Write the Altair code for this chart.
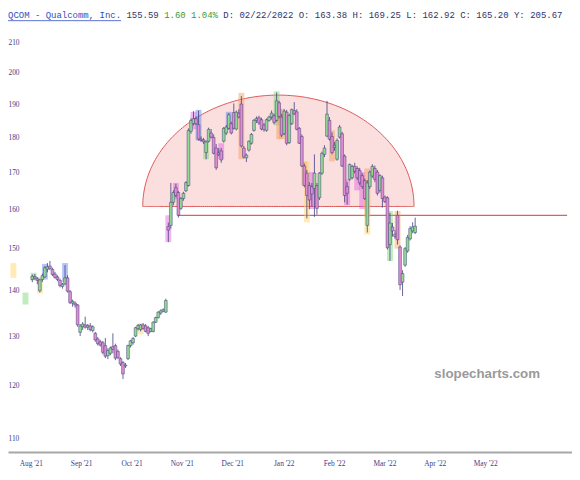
import numpy as np
import pandas as pd
import altair as alt

# ---------------- candle data ----------------
opens = [142.6,143.3,142.8,140.0,142.6,143.2,145.0,145.8,145.0,143.9,
 143.2,142.4,141.0,141.6,143.0,139.8,137.2,137.2,136.8,130.8,
 132.0,132.4,131.9,132.2,131.2,130.6,129.4,128.8,128.6,128.0,
 125.9,126.4,127.8,128.0,126.8,125.3,124.5,123.8,125.3,128.0,
 128.6,130.0,131.6,131.4,132.4,132.2,131.8,131.0,131.0,133.0,
 134.0,135.0,135.4,135.2,
 155.5,155.8,161.8,165.7,164.4,160.2,162.8,164.9,166.3,181.7,
 184.0,185.5,183.7,179.4,179.2,175.5,178.8,181.2,179.9,176.8,
 174.9,176.0,178.8,181.2,182.6,184.0,187.4,182.4,187.2,190.0,
 176.8,174.0,176.2,178.2,182.0,185.0,185.8,185.2,183.6,182.0,
 185.0,186.0,186.4,
 185.0,190.4,186.0,181.0,187.5,178.4,184.0,188.0,187.6,182.6,
 180.2,171.7,169.7,166.3,166.0,165.5,166.3,163.0,169.7,175.0,
 180.3,185.0,180.2,177.0,173.6,180.0,181.0,174.5,166.0,168.0,
 168.4,171.6,171.0,170.4,169.0,167.6,155.8,166.0,168.9,171.0,
 170.0,165.0,168.4,163.2,163.0,151.0,155.4,153.6,158.4,150.4,
 142.0,146.0,149.4,152.4,154.4,154.0]
highs = [143.8,143.9,143.2,142.8,144.0,145.8,146.5,147.0,145.4,144.4,
 143.6,142.8,141.8,146.0,143.6,140.2,138.0,137.6,137.0,132.6,
 133.0,134.2,132.6,132.8,132.3,130.9,129.8,129.2,129.0,129.6,
 127.4,127.8,130.6,128.4,127.2,125.6,124.8,124.4,128.2,129.2,
 129.8,132.0,132.6,132.6,132.8,132.6,132.2,131.8,133.2,134.2,
 135.4,135.8,136.0,138.2,
 156.5,167.0,165.0,166.8,164.8,163.2,164.6,167.5,182.6,185.6,
 187.8,186.2,188.0,180.2,179.8,179.0,182.8,182.4,180.8,178.0,
 176.8,176.8,183.0,183.6,187.2,184.6,190.2,188.0,188.4,192.5,
 177.4,175.2,179.0,181.2,185.4,186.2,186.4,185.8,184.2,185.6,
 186.4,188.0,187.0,
 193.6,191.0,187.0,188.4,188.2,187.0,188.6,190.6,188.4,183.0,
 180.8,172.4,170.6,167.2,167.0,175.0,167.0,170.0,175.8,177.6,
 191.0,186.0,181.4,178.6,179.6,183.6,181.6,175.0,167.2,172.4,
 172.0,172.6,171.6,171.2,169.6,168.2,167.8,170.4,172.2,171.8,
 170.6,169.4,169.0,163.6,163.4,159.0,156.4,154.6,159.6,150.8,
 144.8,150.4,153.4,155.6,156.6,157.8]
lows = [142.0,142.6,141.5,139.6,142.0,143.0,144.3,144.8,143.4,142.8,
 142.2,140.8,140.5,141.3,139.6,137.0,136.4,136.2,132.0,130.0,
 131.3,131.6,131.3,131.0,130.8,128.8,128.0,127.8,126.2,125.4,
 125.2,126.0,126.4,125.0,125.2,123.8,121.2,123.4,125.0,127.6,
 128.2,129.8,131.2,131.0,131.4,130.8,130.0,130.8,130.8,132.8,
 133.8,134.6,135.2,135.0,
 151.6,155.0,161.0,163.2,157.8,159.8,162.2,164.5,166.0,181.0,
 183.5,183.6,179.0,178.6,178.0,173.6,178.4,179.6,175.0,170.6,
 174.5,172.6,178.4,180.6,182.2,180.8,182.2,182.0,185.6,177.0,
 173.8,172.8,175.8,177.8,181.6,184.2,183.6,182.0,181.6,181.6,
 184.6,185.2,183.8,
 184.6,185.6,180.0,180.6,177.6,178.0,183.6,186.6,182.0,178.0,
 171.4,165.8,157.6,160.0,160.6,158.0,158.6,162.4,169.2,174.2,
 180.0,179.0,175.0,176.0,173.2,179.6,171.4,161.8,161.2,167.6,
 168.0,169.6,167.8,166.4,165.4,162.4,154.0,165.4,168.4,167.2,
 163.6,164.4,160.4,161.6,149.8,147.0,153.0,152.4,151.0,140.2,
 138.8,145.6,149.0,152.0,153.8,153.6]
closes = [143.4,142.9,142.4,142.5,143.5,145.4,145.6,145.2,143.8,143.1,
 142.6,141.2,141.5,143.0,139.9,137.3,137.6,136.8,132.4,132.2,
 132.6,131.9,132.3,131.4,132.0,129.2,128.4,128.1,126.6,125.8,
 127.0,127.5,127.2,125.4,125.5,124.2,122.2,124.0,128.0,129.0,
 129.5,131.8,132.3,132.4,131.6,131.0,130.6,131.6,133.0,134.0,
 135.2,135.5,135.8,137.8,
 154.6,161.8,164.4,163.6,158.4,162.8,164.2,167.1,182.0,185.0,
 185.5,184.0,179.4,179.0,178.6,178.6,182.3,180.0,175.3,171.2,
 175.4,173.4,182.6,183.0,186.7,181.2,182.6,187.5,186.0,177.4,
 174.2,174.8,178.8,180.8,185.0,185.6,184.2,182.4,182.2,185.2,
 186.0,187.2,184.4,
 191.0,186.2,180.6,187.8,178.2,186.5,188.3,187.0,182.3,178.2,
 171.7,166.3,163.6,162.4,164.0,169.7,160.2,169.7,175.3,176.8,
 186.9,179.4,175.5,177.6,179.0,183.0,171.7,163.6,164.2,172.1,
 171.6,170.2,168.4,167.0,166.0,162.8,167.0,170.0,171.6,168.0,
 164.2,169.0,162.8,162.0,150.2,156.4,154.4,153.0,152.2,141.4,
 144.0,150.0,152.8,155.0,155.4,155.6]

# pattern highlight boxes
hl_idx = [-7.5, -2.7, 0.5, 3, 5, 13, 43, 54, 57, 64, 66, 69, 75, 78, 83, 97, 98, 99,
          108, 109, 111, 119, 125, 129, 131, 133, 133, 142, 145]
hl_lo = [143.0, 136.9, 142.4, 139.4, 142.6, 142.0, 130.4, 151.6, 162.6, 182.3, 179.0, 173.6,
         173.6, 182.3, 173.6, 183.5, 179.4, 179.4, 166.3, 156.6, 160.0, 173.0, 161.0, 165.0,
         160.0, 158.0, 153.5, 147.0, 150.0]
hl_hi = [146.5, 139.6, 144.2, 143.2, 146.3, 146.5, 132.8, 158.4, 167.0, 187.6, 188.2, 179.0,
         178.2, 187.6, 193.5, 194.0, 188.5, 188.5, 173.0, 173.0, 170.0, 182.0, 168.0, 171.0,
         170.0, 171.0, 163.0, 159.5, 159.5]
hl_kind = ["yellow", "green", "green", "yellow", "blue", "blue", "yellow", "magenta", "magenta",
           "magenta", "blue", "green", "magenta", "blue", "orange", "green", "orange", "orange",
           "orange", "yellow", "magenta", "orange", "magenta", "magenta", "magenta", "orange",
           "yellow", "green", "orange"]

# axis labels
y_ticks = [110, 120, 130, 140, 150, 160, 170, 180, 190, 200, 210]
month_labels = ["Aug '21", "Sep '21", "Oct '21", "Nov '21", "Dec '21",
                "Jan '22", "Feb '22", "Mar '22", "Apr '22", "May '22"]
month_idx = [-0.4, 19.6, 39.6, 59.6, 79.6, 100.0, 120.0, 140.0, 160.0, 180.0]

# annotation shapes (drawing parameters in data units)
arc_center, arc_rx, arc_base, arc_top = 97.7, 53.85, 160.7, 192.8
hline_from, hline_to, hline_price = 57.7, 212.31, 158.4

header_parts = ["QCOM - Qualcomm, Inc.", "155.59", "1.60 1.04%",
                "D: 02/22/2022 O: 163.38 H: 169.25 L: 162.92 C: 165.20 Y: 205.67"]
header_cols = [0, 22, 29, 40]
header_colors = ["#2f4fc0", "#333366", "#3a9a3a", "#333366"]

# ---------------- build ----------------
NAVY = "#3e3e7c"
TXT = "#3d3d8a"
W, H = 572, 420

df = pd.DataFrame({"idx": np.arange(len(closes)), "open": opens, "high": highs,
                   "low": lows, "close": closes})
df["dir"] = np.where(df["close"] >= df["open"], "up", "down")

xs = alt.Scale(domain=[-7.69, 212.31], nice=False, zero=False)
ys = alt.Scale(type="log", domain=[107.55, 211.7], nice=False)
xaxis = alt.Axis(domain=True, domainColor="#a8a8a8", domainWidth=2, ticks=False,
                 labels=False, grid=False, title=None)
yaxis = alt.Axis(values=y_ticks, orient="left", domain=False, ticks=False, tickSize=0,
                 labelAlign="left", labelPadding=0, labelFont="Liberation Serif",
                 labelFontSize=7.5, labelColor=TXT, grid=False, title=None,
                 labelFlush=False, labelOverlap=False, labelBaseline="middle")

t = np.linspace(0, np.pi, 181)
arc_df = pd.DataFrame({
    "ax": arc_center - arc_rx * np.cos(t),
    "ay": np.exp(np.log(arc_base) + (np.log(arc_top) - np.log(arc_base)) * np.sin(t)),
    "ab": arc_base,
})
arc = alt.Chart(arc_df).mark_area(fill="#f7c4c4", fillOpacity=0.55, stroke="#dd5555",
                                  strokeWidth=1).encode(
    x=alt.X("ax:Q", scale=xs, axis=xaxis),
    y=alt.Y("ay:Q", scale=ys, axis=yaxis),
    y2="ab:Q",
)

hl_df = pd.DataFrame({"idx": hl_idx, "lo": hl_lo, "hi": hl_hi, "kind": hl_kind})
hl = alt.Chart(hl_df).mark_bar(size=6, opacity=0.45).encode(
    x=alt.X("idx:Q", scale=xs, axis=xaxis),
    y=alt.Y("lo:Q", scale=ys, axis=yaxis),
    y2="hi:Q",
    fill=alt.Fill("kind:N", legend=None, scale=alt.Scale(
        domain=["yellow", "orange", "green", "magenta", "blue"],
        range=["#ffd35c", "#f29a5a", "#74d474", "#e05ae0", "#5a7ff0"])),
)

hline_df = pd.DataFrame({"x1": [hline_from], "x2": [hline_to], "p": [hline_price]})
hline = alt.Chart(hline_df).mark_rule(color="#e06060", strokeWidth=1.2).encode(
    x=alt.X("x1:Q", scale=xs, axis=xaxis), x2="x2:Q",
    y=alt.Y("p:Q", scale=ys, axis=yaxis),
)

wick = alt.Chart(df).mark_rule(color=NAVY, strokeWidth=0.8).encode(
    x=alt.X("idx:Q", scale=xs, axis=xaxis),
    y=alt.Y("low:Q", scale=ys, axis=yaxis),
    y2="high:Q",
)
body = alt.Chart(df).mark_bar(size=2.8, stroke=NAVY, strokeWidth=0.5).encode(
    x=alt.X("idx:Q", scale=xs, axis=xaxis),
    y=alt.Y("open:Q", scale=ys, axis=yaxis),
    y2="close:Q",
    color=alt.Color("dir:N", legend=None,
                    scale=alt.Scale(domain=["up", "down"], range=["#92d892", "#e08ccf"])),
)

mdf = pd.DataFrame({"idx": month_idx, "label": month_labels})
months = alt.Chart(mdf).mark_text(font="Liberation Serif", fontSize=7.5, color=TXT,
                                  align="center", baseline="middle").encode(
    x=alt.X("idx:Q", scale=xs, axis=xaxis), y=alt.value(H + 12), text="label:N")

wm = alt.Chart(pd.DataFrame({"t": ["slopecharts.com"]})).mark_text(
    font="Liberation Sans", fontSize=13.5, fontWeight="bold", color="#9a9a9a",
    align="center", baseline="middle").encode(
    x=alt.value(486), y=alt.value(341), text="t:N")

CW = 0.6 * 9.1
header_layers = []
for txt, col, colr in zip(header_parts, header_cols, header_colors):
    header_layers.append(
        alt.Chart(pd.DataFrame({"t": [txt]})).mark_text(
            font="Liberation Mono", fontSize=9.1, color=colr, align="left",
            baseline="middle").encode(x=alt.value(col * CW), y=alt.value(-23), text="t:N"))
underline = alt.Chart(pd.DataFrame({"a": [0]})).mark_rule(color="#2f4fc0", strokeWidth=0.8).encode(
    x=alt.value(0), x2=alt.value(len(header_parts[0]) * CW), y=alt.value(-17.5))

chart = alt.layer(arc, hline, hl, wick, body, months, wm, underline, *header_layers).properties(
    width=W, height=H,
    autosize=alt.AutoSizeParams(type="none"),
    padding={"left": 0, "top": 27, "right": 0, "bottom": 25},
    background="white",
).configure_view(stroke=None)

chart.save("out.html", embed_options={"renderer": "svg", "actions": False})
